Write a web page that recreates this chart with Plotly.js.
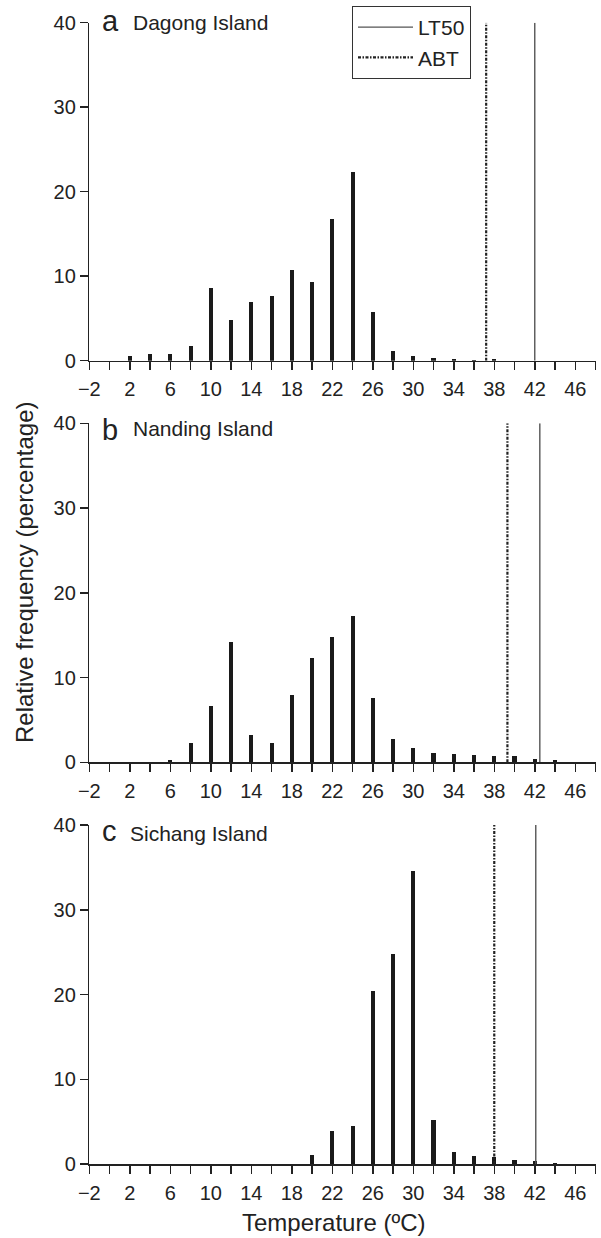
<!DOCTYPE html>
<html>
<head>
<meta charset="utf-8">
<script src="https://cdn.plot.ly/plotly-3.0.1.min.js"></script>
<style>html,body{margin:0;padding:0;background:#fff;}#chart{width:601px;height:1238px;}</style>
</head>
<body>
<div id="chart"></div>
<script>
// ---- data ----
const temps = [2, 4, 6, 8, 10, 12, 14, 16, 18, 20, 22, 24, 26, 28, 30, 32, 34, 36, 38, 40, 42, 44];
const dagong  = [0.5, 0.8, 0.8, 1.7, 8.6, 4.8, 6.9, 7.6, 10.7, 9.3, 16.8, 22.3, 5.8, 1.1, 0.5, 0.3, 0.2, 0.1, 0.25, 0, 0, 0];
const nanding = [0, 0, 0.3, 2.3, 6.6, 14.2, 3.2, 2.3, 8.0, 12.3, 14.8, 17.3, 7.6, 2.7, 1.7, 1.1, 1.0, 0.9, 0.8, 0.7, 0.4, 0.3];
const sichang = [0, 0, 0, 0, 0, 0, 0, 0, 0, 1.1, 3.9, 4.5, 20.4, 24.8, 34.6, 5.2, 1.4, 0.95, 0.8, 0.5, 0.35, 0.1];
const panelLetters = ['a', 'b', 'c'];
const panelNames = ['Dagong Island', 'Nanding Island', 'Sichang Island'];
const lt50 = [42.0, 42.5, 42.1];
const abt  = [37.2, 39.3, 38.0];
const xTickVals = [-2, 0, 2, 4, 6, 8, 10, 12, 14, 16, 18, 20, 22, 24, 26, 28, 30, 32, 34, 36, 38, 40, 42, 44, 46, 48];
const xTickText = ['\u22122', '', '2', '', '6', '', '10', '', '14', '', '18', '', '22', '', '26', '', '30', '', '34', '', '38', '', '42', '', '46', ''];
const yTickVals = [0, 10, 20, 30, 40];
const xRange = [-2, 48];
const yRange = [0, 40];

// ---- styling / layout ----
const FONT = 'Liberation Sans, Arial, Helvetica, sans-serif';
const INK = '#222';
const W = 601, H = 1238;
const xDomain = [89.3 / W, 595.5 / W];
const panelPx = [[22.7, 360.7], [423.3, 762.3], [825, 1164]]; // top, bottom in px
const series = [dagong, nanding, sichang];

const traces = [];
const layout = {
  width: W, height: H,
  margin: {l: 0, r: 0, t: 0, b: 0},
  paper_bgcolor: '#fff', plot_bgcolor: '#fff',
  font: {family: FONT, color: INK, size: 20},
  showlegend: true,
  legend: {
    x: 352 / W, y: 1 - 6 / H, xanchor: 'left', yanchor: 'top',
    bgcolor: '#fff', bordercolor: '#333', borderwidth: 1,
    font: {family: FONT, size: 21, color: INK},
    tracegroupgap: 0, itemwidth: 55
  },
  annotations: [],
  bargap: 0
};

series.forEach((vals, i) => {
  const sfx = i === 0 ? '' : String(i + 1);
  const xa = 'x' + sfx, ya = 'y' + sfx;
  traces.push({
    type: 'bar', x: temps, y: vals, xaxis: xa, yaxis: ya,
    width: 0.4, marker: {color: '#1a1a1a', line: {width: 0}},
    showlegend: false, hoverinfo: 'x+y'
  });
  traces.push({
    type: 'scatter', mode: 'lines', name: 'LT50',
    x: [lt50[i], lt50[i]], y: [yRange[0], yRange[1]], xaxis: xa, yaxis: ya,
    line: {color: '#555', width: 1.4},
    showlegend: i === 0, legendgroup: 'lt50'
  });
  traces.push({
    type: 'scatter', mode: 'lines', name: 'ABT',
    x: [abt[i], abt[i]], y: [yRange[0], yRange[1]], xaxis: xa, yaxis: ya,
    line: {color: '#222', width: 2.2, dash: '3px,1.5px,1.5px,1.5px'},
    showlegend: i === 0, legendgroup: 'abt'
  });
  const [top, bot] = panelPx[i];
  layout['xaxis' + sfx] = {
    domain: xDomain, anchor: ya, range: xRange, fixedrange: true,
    tickmode: 'array', tickvals: xTickVals, ticktext: xTickText,
    ticks: 'outside', ticklen: 8, tickwidth: 1.5, tickcolor: INK,
    ticklabelstandoff: 2,
    showline: true, linewidth: 1.5, linecolor: INK,
    showgrid: false, zeroline: false,
    tickfont: {family: FONT, size: 20, color: INK}
  };
  layout['yaxis' + sfx] = {
    domain: [1 - bot / H, 1 - top / H], anchor: xa, range: yRange, fixedrange: true,
    tickmode: 'array', tickvals: yTickVals,
    ticks: 'outside', ticklen: 8, tickwidth: 1.5, tickcolor: INK,
    showline: true, linewidth: 1.5, linecolor: INK,
    showgrid: false, zeroline: false,
    tickfont: {family: FONT, size: 20, color: INK}
  };
  const letterShift = [2, -7, -6][i];
  const nameShift = [0, -5, -8][i];
  const nameX = [131, 130.7, 128.3][i];
  layout.annotations.push({
    xref: xa + ' domain', yref: ya + ' domain',
    x: (100 - 89.3) / (595.5 - 89.3), y: 1, xanchor: 'left', yanchor: 'middle',
    yshift: letterShift, showarrow: false, text: panelLetters[i],
    font: {family: FONT, size: 29, color: INK}
  });
  layout.annotations.push({
    xref: xa + ' domain', yref: ya + ' domain',
    x: (nameX - 89.3) / (595.5 - 89.3), y: 1, xanchor: 'left', yanchor: 'middle',
    yshift: nameShift, showarrow: false, text: panelNames[i],
    font: {family: FONT, size: 21, color: INK}
  });
});

layout.annotations.push({
  xref: 'paper', yref: 'paper', x: 24 / W, y: 1 - 572 / H,
  xanchor: 'center', yanchor: 'middle', textangle: -90, showarrow: false,
  text: 'Relative frequency (percentage)', font: {family: FONT, size: 24, color: INK}
});
layout.annotations.push({
  xref: 'paper', yref: 'paper', x: 333.5 / W, y: 0,
  xanchor: 'center', yanchor: 'bottom', showarrow: false,
  text: 'Temperature (\u00BAC)', font: {family: FONT, size: 24, color: INK}
});

Plotly.newPlot('chart', traces, layout, {displayModeBar: false, staticPlot: true});
</script>
</body>
</html>
